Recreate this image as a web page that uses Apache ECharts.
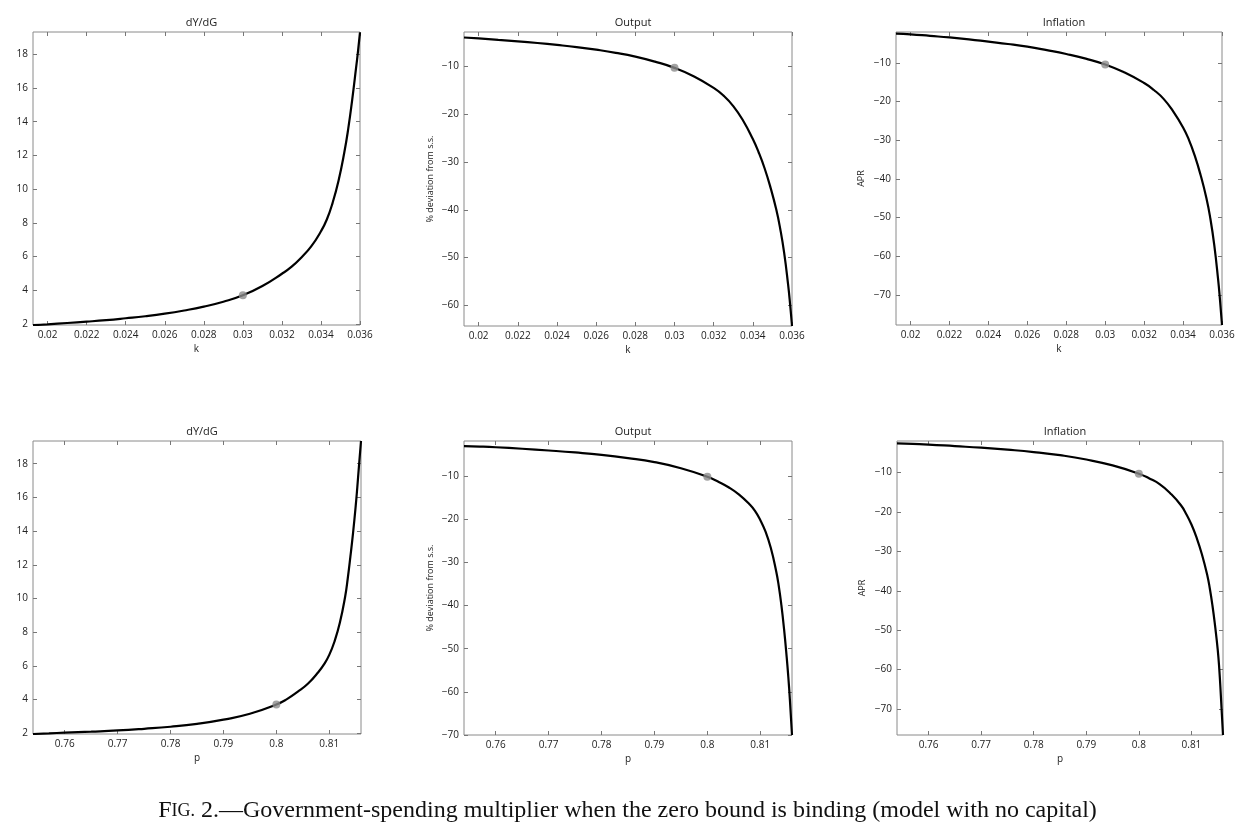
<!DOCTYPE html>
<html lang="en">
<head>
    <meta charset="UTF-8">
    <title>Government-spending multiplier</title>
    <style>
        *{
            margin: 0;
            padding: 0;
        }
        body{
            background: #fff;
        }
        #chart{
            width: 1255px;
            height: 836px;
        }
    </style>
</head>
<body>
    <div id="chart"></div>
    <script src="https://cdn.jsdelivr.net/npm/echarts@6/dist/echarts.min.js"></script>
    <script>
        // values
        var kValues = [0.01925, 0.020, 0.021, 0.022, 0.023, 0.024, 0.025, 0.026, 0.027, 0.028, 0.029, 0.030, 0.031,
            0.032, 0.0325, 0.033, 0.0335, 0.034, 0.0343, 0.0346, 0.0349, 0.0352, 0.0354, 0.0356, 0.0358, 0.0359, 0.036];
        var kMultiplier = [1.93, 1.98, 2.06, 2.14, 2.23, 2.34, 2.46, 2.61, 2.8, 3.03, 3.32, 3.7, 4.25,
            4.98, 5.4, 5.95, 6.6, 7.5, 8.2, 9.2, 10.5, 12.2, 13.6, 15.3, 17.2, 18.2, 19.3];
        var kOutput = [-3.95, -4.15, -4.45, -4.75, -5.1, -5.5, -5.95, -6.5, -7.15, -7.95, -9.0, -10.3, -12.1,
            -14.5, -16.1, -18.3, -21.3, -25.2, -28.0, -31.3, -35.3, -40.0, -44.0, -49.0, -55.6, -59.6, -64.3];
        var kInflation = [-2.4, -2.6, -3.0, -3.4, -3.9, -4.5, -5.1, -5.8, -6.7, -7.7, -8.9, -10.4, -12.5,
            -15.2, -17.0, -19.3, -22.6, -26.7, -29.9, -34.0, -39.0, -45.0, -50.2, -57.0, -66.0, -71.5, -77.8];

        var pValues = [0.754, 0.757, 0.760, 0.765, 0.770, 0.775, 0.780, 0.785, 0.790, 0.795, 0.800, 0.802, 0.804,
            0.806, 0.808, 0.809, 0.810, 0.811, 0.812, 0.813, 0.8135, 0.814, 0.8145, 0.815, 0.8153, 0.8156, 0.816];
        var pMultiplier = [1.95, 1.99, 2.03, 2.09, 2.16, 2.26, 2.38, 2.55, 2.8, 3.15, 3.7, 4.02, 4.45,
            4.95, 5.65, 6.08, 6.65, 7.45, 8.55, 10.1, 11.2, 12.5, 13.9, 15.5, 16.6, 17.8, 19.35];
        var pOutput = [-3.1, -3.2, -3.35, -3.7, -4.1, -4.55, -5.1, -5.85, -6.8, -8.2, -10.2, -11.3, -12.6,
            -14.3, -16.6, -18.1, -20.2, -22.9, -26.7, -32.0, -35.5, -40.0, -45.5, -52.0, -56.5, -61.8, -70.0];
        var pInflation = [-2.6, -2.75, -2.9, -3.3, -3.7, -4.2, -4.8, -5.6, -6.7, -8.2, -10.3, -11.5, -13.0,
            -15.3, -18.3, -20.5, -23.2, -26.6, -30.8, -36.0, -39.5, -43.8, -49.0, -55.0, -60.0, -66.8, -76.6];

        // benchmark calibration (grey dots)
        var kStar = 0.03;
        var kStarValues = [3.7, -10.3, -10.4];
        var pStar = 0.8;
        var pStarValues = [3.7, -10.2, -10.3];

        var kTicks = [0.02, 0.022, 0.024, 0.026, 0.028, 0.03, 0.032, 0.034, 0.036];
        var pTicks = [0.76, 0.77, 0.78, 0.79, 0.8, 0.81];
        var multTicks = [2, 4, 6, 8, 10, 12, 14, 16, 18];
        var outTicksTop = [-60, -50, -40, -30, -20, -10];
        var devTicks = [-70, -60, -50, -40, -30, -20, -10];

        var panelTitles = ['dY/dG', 'Output', 'Inflation'];
        var yNames = ['', '% deviation from s.s.', 'APR'];

        var chart = echarts.init(document.getElementById('chart'));
        var font = 'Open Sans';

        var panels = [
            {box: [33, 32, 327, 293], x: kValues, y: kMultiplier, xr: [0.01925, 0.036], yr: [1.94, 19.32], xt: kTicks, yt: multTicks, xn: 'k', star: [kStar, kStarValues[0]]},
            {box: [464, 32, 328, 294], x: kValues, y: kOutput, xr: [0.01925, 0.036], yr: [-64.3, -2.8], xt: kTicks, yt: outTicksTop, xn: 'k', star: [kStar, kStarValues[1]]},
            {box: [896, 32, 326, 293], x: kValues, y: kInflation, xr: [0.01925, 0.036], yr: [-77.8, -2.0], xt: kTicks, yt: devTicks, xn: 'k', star: [kStar, kStarValues[2]]},
            {box: [33, 441, 328, 293], x: pValues, y: pMultiplier, xr: [0.754, 0.816], yr: [1.95, 19.35], xt: pTicks, yt: multTicks, xn: 'p', star: [pStar, pStarValues[0]]},
            {box: [464, 441, 328, 294], x: pValues, y: pOutput, xr: [0.754, 0.816], yr: [-70, -1.9], xt: pTicks, yt: devTicks, xn: 'p', star: [pStar, pStarValues[1]]},
            {box: [897, 441, 326, 294], x: pValues, y: pInflation, xr: [0.754, 0.816], yr: [-76.6, -2.0], xt: pTicks, yt: devTicks, xn: 'p', star: [pStar, pStarValues[2]]}
        ];

        function fmt(v){
            return String(v).replace('-', '\u2212');
        }

        var option = {
            animation: false,
            backgroundColor: '#fff',
            title: [],
            grid: [],
            xAxis: [],
            yAxis: [],
            series: []
        };

        panels.forEach(function(p, i){
            var col = i % 3;
            option.grid.push({
                left: p.box[0], top: p.box[1], width: p.box[2], height: p.box[3],
                show: true, borderColor: '#8a8a8a', borderWidth: 1, containLabel: false
            });
            option.title.push({
                text: panelTitles[col],
                left: p.box[0] + p.box[2] / 2,
                top: p.box[1] - 20,
                textAlign: 'center',
                textStyle: {fontFamily: font, fontSize: 11, fontWeight: 'normal', color: '#222'}
            });
            var tickStyle = {inside: true, length: 4, lineStyle: {color: '#777', width: 1}};
            // bottom axis with labels
            option.xAxis.push({
                type: 'value', gridIndex: i, position: 'bottom',
                min: p.xr[0], max: p.xr[1],
                axisLine: {show: false},
                axisTick: Object.assign({customValues: p.xt}, tickStyle),
                axisLabel: {customValues: p.xt, fontFamily: font, fontSize: 10, color: '#222', margin: 5, formatter: fmt},
                splitLine: {show: false},
                name: p.xn, nameLocation: 'middle', nameGap: 19,
                nameTextStyle: {fontFamily: font, fontSize: 10, color: '#222'}
            });
            // mirrored top ticks
            option.xAxis.push({
                type: 'value', gridIndex: i, position: 'top',
                min: p.xr[0], max: p.xr[1],
                axisLine: {show: false},
                axisTick: Object.assign({customValues: p.xt}, tickStyle),
                axisLabel: {show: false, customValues: p.xt},
                splitLine: {show: false}
            });
            option.yAxis.push({
                type: 'value', gridIndex: i, position: 'left',
                min: p.yr[0], max: p.yr[1],
                axisLine: {show: false},
                axisTick: Object.assign({customValues: p.yt}, tickStyle),
                axisLabel: {customValues: p.yt, fontFamily: font, fontSize: 10, color: '#222', margin: 5, formatter: fmt},
                splitLine: {show: false},
                name: yNames[col], nameLocation: 'middle', nameGap: col === 1 ? 29 : 30,
                nameTextStyle: {fontFamily: font, fontSize: 9, color: '#222'}
            });
            option.yAxis.push({
                type: 'value', gridIndex: i, position: 'right',
                min: p.yr[0], max: p.yr[1],
                axisLine: {show: false},
                axisTick: Object.assign({customValues: p.yt}, tickStyle),
                axisLabel: {show: false, customValues: p.yt},
                splitLine: {show: false}
            });
            option.series.push({
                type: 'line',
                xAxisIndex: i * 2, yAxisIndex: i * 2,
                data: p.x.map(function(v, j){ return [v, p.y[j]]; }),
                showSymbol: false,
                smooth: 0.5,
                clip: true,
                lineStyle: {color: '#000', width: 2.2},
                z: 2
            });
            option.series.push({
                type: 'scatter',
                xAxisIndex: i * 2, yAxisIndex: i * 2,
                data: [p.star],
                symbolSize: 8,
                itemStyle: {color: '#8c8c8c'},
                z: 3
            });
        });

        option.title.push({
            text: '{big|F}{small|IG.}{big| 2.\u2014Government-spending multiplier when the zero bound is binding (model with no capital)}',
            left: 'center',
            top: 794,
            textStyle: {
                fontWeight: 'normal',
                rich: {
                    big: {fontFamily: 'Liberation Serif', fontSize: 24, fontWeight: 'normal', color: '#111'},
                    small: {fontFamily: 'Liberation Serif', fontSize: 18, fontWeight: 'normal', color: '#111'}
                }
            }
        });

        chart.setOption(option);
    </script>
</body>
</html>
